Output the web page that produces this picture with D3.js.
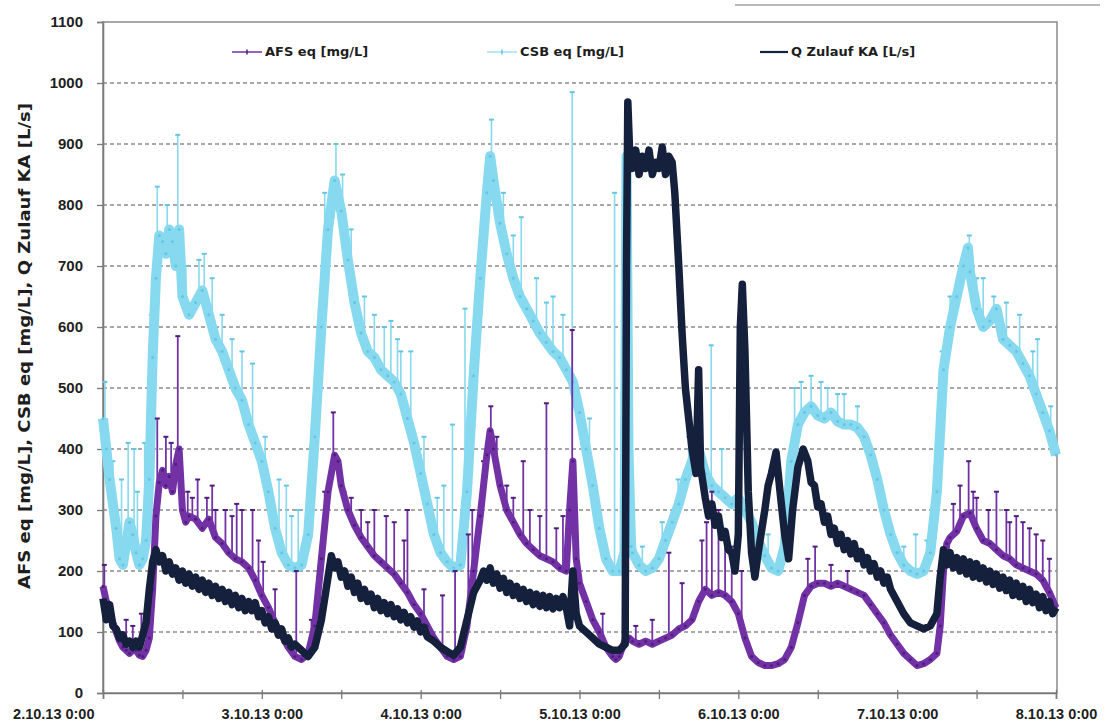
<!DOCTYPE html>
<html>
<head>
<meta charset="utf-8">
<script src="https://cdn.jsdelivr.net/npm/d3@7"></script>
<style>
  body { margin: 0; background: #fff; }
  svg { display: block; font-family: "DejaVu Sans", sans-serif; }
</style>
</head>
<body>
<script>
// hours since 2.10.13 0:00
const dayLabels = ["2.10.13 0:00", "3.10.13 0:00", "4.10.13 0:00", "5.10.13 0:00", "6.10.13 0:00", "7.10.13 0:00", "8.10.13 0:00"];
const xTicks = [0, 12, 24, 36, 48, 60, 72, 84, 96, 108, 120, 132, 144];
const yTicks = [0, 100, 200, 300, 400, 500, 600, 700, 800, 900, 1000, 1100];
const seriesNames = ["AFS eq [mg/L]", "CSB eq [mg/L]", "Q Zulauf KA [L/s]"];
const yTitle = "AFS eq [mg/L], CSB eq [mg/L], Q  Zulauf KA  [L/s]";

// AFS eq [mg/L]
const afsEq = [[0,175],[0.5,150],[1,130],[1.5,115],[2,100],[2.5,85],[3,75],[3.5,70],[4,65],[4.5,70],[5,70],[5.5,62],[6,60],[6.5,70],[7,90],[7.5,170],[8,290],[8.5,345],[9,365],[9.5,340],[10,355],[10.5,330],[11,375],[11.5,400],[12,300],[12.5,280],[13,290],[14,285],[15,270],[16,285],[17,255],[18,245],[19,230],[20,220],[21,215],[22,205],[23,185],[24,160],[25,140],[26,115],[27,95],[28,75],[29,60],[30,55],[31,65],[32,110],[33,220],[34,330],[35,390],[35.5,380],[36,340],[37,300],[38,275],[39,255],[40,240],[41,225],[42,215],[43,205],[44,195],[45,180],[46,165],[47,145],[48,130],[49,110],[50,90],[51,75],[52,60],[53,55],[54,60],[55,110],[56,200],[57,290],[58,390],[58.5,430],[59,400],[60,340],[61,300],[62,280],[63,260],[64,245],[65,235],[66,225],[67,220],[68,215],[69,205],[70,200],[70.5,300],[71,380],[71.5,220],[72,180],[73,150],[74,120],[75,100],[76,75],[77,60],[77.5,55],[78,60],[79,90],[79.5,90],[80,85],[81,80],[82,85],[83,80],[84,85],[85,90],[86,95],[87,105],[88,110],[89,120],[90,150],[91,170],[92,160],[93,165],[94,160],[95,150],[96,130],[97,90],[98,60],[99,50],[100,45],[101,45],[102,48],[103,55],[104,75],[105,115],[106,160],[107,175],[108,180],[109,180],[110,175],[111,180],[112,175],[113,170],[114,165],[115,160],[116,145],[117,130],[118,115],[119,95],[120,80],[121,65],[122,55],[123,45],[124,48],[125,55],[126,65],[126.5,110],[127,200],[127.5,245],[128,255],[129,265],[130,290],[131,295],[132,270],[133,250],[134,245],[135,235],[136,225],[137,220],[138,210],[139,205],[140,200],[141,195],[142,185],[143,165],[144,140]];
const afsSpikes = [[0.2,210],[2.5,100],[3.5,120],[4.5,110],[5.8,130],[6.8,150],[8.2,450],[9.5,420],[10.3,410],[11.3,585],[12.8,330],[13.5,320],[14.3,350],[15.7,320],[16.5,340],[17,300],[18.5,300],[19.5,290],[20.2,310],[21,300],[22.6,300],[23.5,250],[24.2,215],[26,170],[29.2,200],[31.5,120],[33.5,330],[34.8,460],[36.4,330],[37.5,320],[39,300],[40,280],[41,300],[42.8,290],[44,280],[45.5,250],[46,300],[48.5,170],[51.3,160],[53.2,200],[55.2,260],[55.8,300],[57.5,380],[58.6,470],[59.5,420],[61,340],[62,320],[63.5,380],[64.5,300],[66,290],[67,475],[68.5,270],[69.5,290],[70.9,595],[75.5,130],[80.5,110],[83,120],[85.5,230],[87.5,180],[90.5,250],[91.2,280],[92,330],[93,300],[94,260],[95,240],[96.5,200],[106.5,220],[107.6,240],[110,210],[112.5,200],[128.5,310],[129.5,340],[130.8,380],[131.5,330],[132,320],[133.8,300],[135,330],[136.5,300],[137,280],[138,290],[139,280],[140,270],[141,260],[142,250],[143,220]];

// CSB eq [mg/L]
const csbEq = [[0,450],[0.5,400],[1,350],[2,270],[2.5,220],[3,210],[4,280],[4.5,260],[5,230],[5.5,210],[6,220],[6.5,250],[7,350],[7.5,550],[8,680],[8.5,750],[9,740],[9.5,720],[10,760],[10.5,740],[11,700],[11.5,760],[12,650],[13,620],[14,640],[15,660],[16,620],[17,580],[18,560],[19,530],[20,500],[21,480],[22,440],[23,410],[24,380],[25,330],[26,270],[27,230],[28,210],[29,205],[30,210],[31,260],[32,420],[33,600],[34,760],[35,840],[36,790],[37,710],[38,640],[39,590],[40,560],[41,550],[42,530],[43,520],[44,510],[45,490],[46,450],[47,410],[48,360],[49,310],[50,260],[51,230],[52,215],[53,205],[54,210],[55,330],[56,520],[57,680],[58,820],[58.5,880],[59,840],[60,770],[61,720],[62,680],[63,650],[64,630],[65,610],[66,590],[67,575],[68,560],[69,550],[70,530],[71,510],[72,460],[73,400],[74,340],[75,270],[76,220],[77,200],[78,200],[78.8,230],[79.1,880],[79.4,400],[79.8,240],[80,230],[81,210],[82,200],[83,205],[84,220],[85,250],[86,280],[87,310],[88,350],[89,380],[90,400],[91,360],[92,340],[93,330],[94,320],[95,310],[96,320],[97,300],[98,280],[99,250],[100,225],[101,205],[102,200],[103,240],[104,380],[105,440],[106,460],[107,470],[108,455],[109,450],[110,460],[111,445],[112,440],[113,440],[114,435],[115,420],[116,390],[117,350],[118,300],[119,260],[120,230],[121,210],[122,200],[123,195],[124,200],[125,230],[126,330],[127,530],[128,600],[129,650],[130,700],[130.7,730],[131,690],[132,630],[133,600],[134,610],[135,630],[136,580],[137,570],[138,560],[139,540],[140,520],[141,490],[142,460],[143,430],[144,390]];
const csbSpikes = [[0.3,510],[1.5,380],[2.8,350],[3.8,410],[4.7,400],[5.2,330],[6.3,410],[7.3,620],[8.2,830],[9.7,800],[11.3,915],[12.5,700],[14.5,710],[15.3,720],[16.5,680],[18,620],[19.5,580],[21,560],[22.6,540],[24.5,420],[26.6,350],[27.7,340],[28.5,290],[29.5,300],[33.5,820],[35.2,900],[36.2,850],[37.5,760],[39.5,650],[41,620],[42.5,600],[43.5,610],[44.5,580],[45,560],[46.5,560],[48.5,420],[50.5,320],[51.5,340],[52.8,440],[54.7,630],[56.5,640],[58.7,940],[60.5,820],[62,750],[63.2,780],[65.5,680],[67,640],[68,650],[69.5,620],[70.9,985],[73.5,450],[77.3,820],[81.5,240],[84.5,280],[86.9,350],[88.5,420],[89.8,450],[91.9,570],[93.5,400],[97.5,340],[100.5,260],[104.5,500],[105.5,510],[107,520],[108.5,510],[109.5,500],[111,490],[112,490],[114,470],[121,240],[122.8,260],[124.5,250],[126.8,560],[128,650],[130.9,750],[132,680],[133,680],[134.6,650],[136.5,640],[138.5,620],[140.5,560],[141.2,580],[143.2,470]];

// Q Zulauf KA [L/s]
const qZulauf = [[0,155],[0.5,120],[1,145],[1.5,110],[2,105],[2.5,90],[3,95],[3.5,80],[4,85],[4.5,75],[5,85],[5.5,75],[6,95],[6.5,115],[7,170],[7.5,215],[8,235],[8.5,215],[9,225],[9.5,200],[10,215],[10.5,195],[11,205],[11.5,185],[12,200],[12.5,180],[13,195],[13.5,175],[14,190],[14.5,170],[15,185],[15.5,165],[16,180],[16.5,160],[17,175],[17.5,155],[18,170],[18.5,150],[19,165],[19.5,145],[20,160],[20.5,140],[21,155],[21.5,135],[22,150],[22.5,135],[23,148],[23.5,125],[24,135],[24.5,115],[25,125],[25.5,105],[26,115],[26.5,95],[27,105],[27.5,85],[28,90],[28.5,75],[29,80],[30,70],[31,60],[32,75],[33,120],[34,190],[34.5,225],[35,205],[35.5,215],[36,190],[36.5,200],[37,175],[37.5,190],[38,165],[38.5,180],[39,155],[39.5,170],[40,150],[40.5,162],[41,140],[41.5,155],[42,135],[42.5,148],[43,130],[43.5,145],[44,125],[44.5,138],[45,120],[45.5,132],[46,115],[46.5,125],[47,108],[47.5,118],[48,100],[48.5,108],[49,92],[50,85],[51,75],[52,68],[53,62],[54,75],[55,120],[56,165],[57,185],[57.5,200],[58,185],[58.5,205],[59,180],[59.5,195],[60,172],[60.5,188],[61,165],[61.5,180],[62,160],[62.5,175],[63,155],[63.5,170],[64,150],[64.5,165],[65,145],[65.5,162],[66,142],[66.5,160],[67,140],[67.5,158],[68,138],[68.5,155],[69,140],[69.5,158],[70,140],[70.5,110],[71,200],[71.5,130],[72,110],[73,100],[74,90],[75,80],[76,75],[77,70],[78,70],[78.9,80],[79.1,700],[79.3,969],[79.6,880],[80,860],[80.5,890],[81,850],[81.5,880],[82,860],[82.5,890],[83,850],[83.5,870],[84,860],[84.5,895],[85,850],[85.5,880],[86,870],[86.4,820],[87,700],[87.5,590],[88,500],[88.5,450],[89,400],[89.6,360],[90,530],[90.3,370],[91,320],[91.5,290],[92,310],[92.5,275],[93,290],[93.5,255],[94,265],[94.5,235],[95,230],[95.5,200],[96,260],[96.3,600],[96.6,670],[97,560],[97.5,330],[98,230],[98.5,190],[99,230],[100,300],[100.5,340],[101,360],[101.7,395],[102.3,330],[103,260],[103.6,220],[104.2,300],[105,370],[105.8,400],[106.5,380],[107,345],[107.5,340],[108,305],[108.5,310],[109,280],[109.5,290],[110,260],[110.5,270],[111,245],[111.5,260],[112,235],[112.5,250],[113,228],[113.5,245],[114,220],[114.5,232],[115,210],[115.5,222],[116,200],[116.5,212],[117,190],[117.5,200],[118,180],[118.5,190],[119,170],[120,150],[121,130],[122,115],[123,110],[124,105],[125,110],[126,130],[126.5,190],[127,235],[127.5,210],[128,230],[128.5,205],[129,222],[129.5,200],[130,220],[130.5,195],[131,215],[131.5,190],[132,212],[132.5,188],[133,205],[133.5,182],[134,200],[134.5,178],[135,195],[135.5,172],[136,190],[136.5,168],[137,185],[137.5,160],[138,180],[138.5,158],[139,175],[139.5,150],[140,170],[140.5,148],[141,162],[141.5,140],[142,158],[142.5,135],[143,150],[143.5,130],[144,140]];

const width = 1107, height = 726;
const colAfs = "#7232a6", colAfsMark = "#4e1f7a";
const colCsb = "#86d9ee", colCsbMark = "#64c6e2";
const colQ = "#15213c";

const x = d3.scaleLinear().domain([0, 144]).range([103, 1056]);
const y = d3.scaleLinear().domain([0, 1100]).range([693, 22]);

const svg = d3.select("body").append("svg")
  .attr("width", width)
  .attr("height", height);

// page rule at the top right
svg.append("line")
  .attr("x1", 735).attr("x2", 1100).attr("y1", 5).attr("y2", 5)
  .attr("stroke", "#a0a0a0").attr("stroke-width", 1.5);

// dashed grid
svg.append("g").selectAll("line")
  .data(yTicks.filter(d => d > 0 && d < 1100))
  .join("line")
  .attr("x1", x(0)).attr("x2", 1057)
  .attr("y1", d => y(d)).attr("y2", d => y(d))
  .attr("stroke", "#8c8c8c")
  .attr("stroke-width", 1.4)
  .attr("stroke-dasharray", "4,3");

// plot frame
svg.append("rect")
  .attr("x", x(0)).attr("y", y(1100))
  .attr("width", 1057 - x(0)).attr("height", y(0) - y(1100))
  .attr("fill", "none").attr("stroke", "#8a8a8a").attr("stroke-width", 1.5);

// axes
const yAxis = svg.append("g")
  .attr("transform", `translate(${x(0)},0)`)
  .call(d3.axisLeft(y).tickValues(yTicks).tickFormat(d3.format("d")).tickSize(6).tickPadding(14));
const xAxis = svg.append("g")
  .attr("transform", `translate(0,${y(0)})`)
  .call(d3.axisBottom(x).tickValues(xTicks).tickSize(6).tickPadding(10)
    .tickFormat(d => d % 24 === 0 ? dayLabels[d / 24] : ""));

[yAxis, xAxis].forEach(a => {
  a.select(".domain").attr("stroke", "#7a7a7a").attr("stroke-width", 1.6);
  a.selectAll(".tick line").attr("stroke", "#7a7a7a").attr("stroke-width", 1.3);
  a.selectAll("text").attr("fill", "#1e1e1e").attr("font-weight", "bold");
});
yAxis.selectAll("text").attr("font-size", 15);
xAxis.selectAll("text").attr("font-size", 14.5).attr("dx", 0);
// the first date label sits left of the axis, as in the original
xAxis.selectAll("text").filter(d => d === 0).attr("text-anchor", "end").attr("dx", -9);
xAxis.selectAll(".tick line").attr("y1", -3);

// y title
svg.append("text")
  .attr("transform", "translate(25,346) rotate(-90)")
  .attr("text-anchor", "middle")
  .attr("dominant-baseline", "middle")
  .attr("font-size", 15.5)
  .attr("font-weight", "bold")
  .attr("fill", "#1e1e1e")
  .attr("textLength", 486)
  .attr("lengthAdjust", "spacingAndGlyphs")
  .text(yTitle);

const line = d3.line().x(d => x(d[0])).y(d => y(d[1]));

function drawSeries(data, spikes, color, markColor, width, spikeWidth) {
  const g = svg.append("g");
  const base = d3.scaleLinear().domain(data.map(d => d[0])).range(data.map(d => d[1]));
  g.selectAll("line.spike").data(spikes).join("line")
    .attr("class", "spike")
    .attr("x1", d => x(d[0])).attr("x2", d => x(d[0]))
    .attr("y1", d => y(base(d[0]))).attr("y2", d => y(d[1]))
    .attr("stroke", color).attr("stroke-width", spikeWidth);
  g.selectAll("line.mark").data(spikes).join("line")
    .attr("class", "mark")
    .attr("x1", d => x(d[0]) - 2.5).attr("x2", d => x(d[0]) + 2.5)
    .attr("y1", d => y(d[1])).attr("y2", d => y(d[1]))
    .attr("stroke", markColor).attr("stroke-width", 2);
  g.append("path").datum(data)
    .attr("d", line)
    .attr("fill", "none")
    .attr("stroke", color)
    .attr("stroke-width", width)
    .attr("stroke-linejoin", "round");
  if (markColor) {
    g.selectAll("circle").data(data).join("circle")
      .attr("cx", d => x(d[0])).attr("cy", d => y(d[1]))
      .attr("r", 1.5).attr("fill", markColor);
  }
}

drawSeries(csbEq, csbSpikes, colCsb, colCsbMark, 10, 1.6);
drawSeries(afsEq, afsSpikes, colAfs, colAfsMark, 7, 1.8);
drawSeries(qZulauf, [], colQ, null, 7.5, 1);

// legend
const legend = [
  {name: seriesNames[0], color: colAfs, mark: colAfsMark, x1: 232, x2: 262, w: 1.5},
  {name: seriesNames[1], color: colCsb, mark: colCsbMark, x1: 487, x2: 517, w: 1.2},
  {name: seriesNames[2], color: colQ, mark: null, x1: 760, x2: 788, w: 2.2}
];
const lg = svg.append("g").selectAll("g").data(legend).join("g");
lg.append("line")
  .attr("x1", d => d.x1).attr("x2", d => d.x2)
  .attr("y1", 52).attr("y2", 52)
  .attr("stroke", d => d.color).attr("stroke-width", d => d.w);
lg.filter(d => d.mark).append("line")
  .attr("x1", d => (d.x1 + d.x2) / 2).attr("x2", d => (d.x1 + d.x2) / 2)
  .attr("y1", 49.5).attr("y2", 54.5)
  .attr("stroke", d => d.mark).attr("stroke-width", 1.5);
lg.append("text")
  .attr("x", d => d.x2 + 3).attr("y", 52)
  .attr("dominant-baseline", "middle")
  .attr("font-size", 13)
  .attr("font-weight", "bold")
  .attr("fill", "#1e1e1e")
  .text(d => d.name);
</script>
</body>
</html>
